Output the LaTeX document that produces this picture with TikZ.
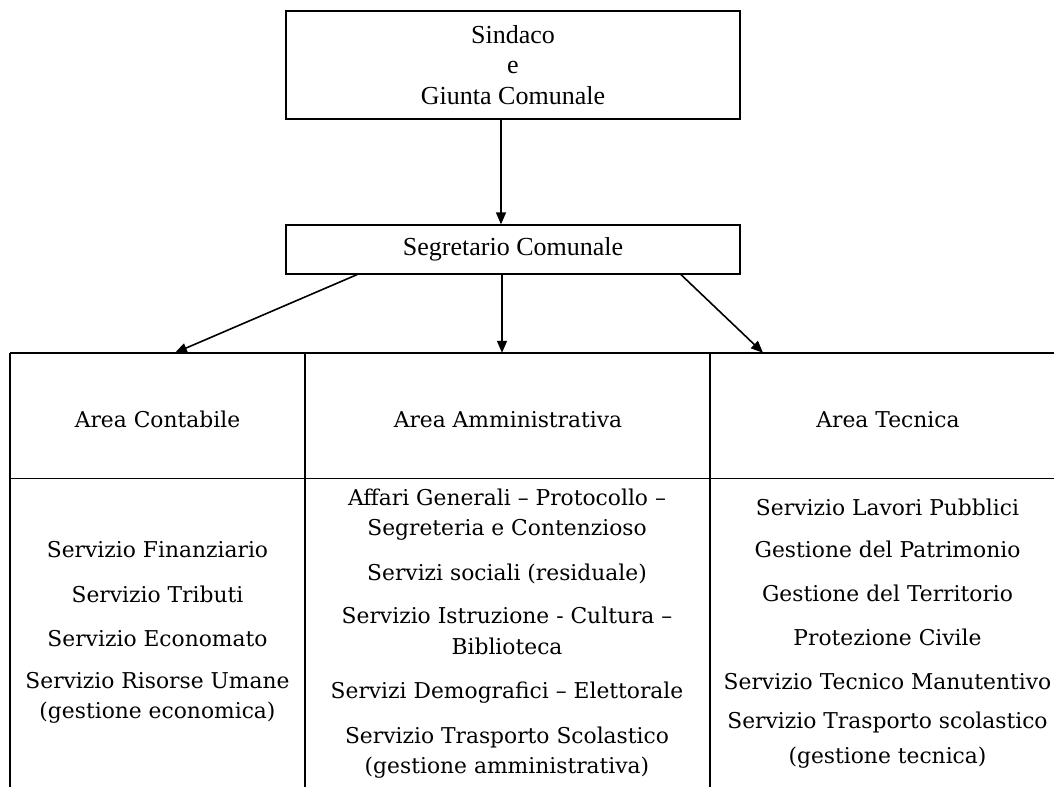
\documentclass[tikz,border=0pt]{standalone}
\usepackage{fontspec}
\setmainfont{Liberation Serif}
\newfontfamily\cellfont{DejaVu Serif}
\usetikzlibrary{arrows.meta,calc}
\begin{document}
\begin{tikzpicture}[x=1pt,y=-1pt,
  box/.style={draw,line width=1.3pt,inner sep=0pt,font=\fontsize{26}{30.5}\selectfont,align=center},
  arr/.style={line width=1.6pt,-{Triangle[length=12pt,width=10pt]}},
  tline/.style={line width=1.4pt},
  cell/.style={inner sep=0pt,minimum height=125pt},
  txt/.style={anchor=base,inner sep=0pt,font=\cellfont\fontsize{21.8}{26}\selectfont}]
\useasboundingbox (0,0) rectangle (1054,787);
% top boxes
\node[box,minimum width=454pt,minimum height=108pt] (sind) at (513,65) {Sindaco\\e\\Giunta Comunale};
\node[box,minimum width=454pt,minimum height=49pt] (seg) at (513,249.5) {Segretario Comunale};
% header cells (table)
\node[cell,minimum width=295pt] (c1) at (157.5,415.5) {};
\node[cell,minimum width=405pt] (c2) at (507.5,415.5) {};
\node[cell,minimum width=356pt] (c3) at (888,415.5) {};
% table lines
\draw[tline] (c1.north west) -- (c3.north east);
\draw[tline] (c1.south west) -- (c3.south east);
\draw[tline] (c1.north west) -- (c1.north west |- 0,787);
\draw[tline] (c2.north west) -- (c2.north west |- 0,787);
\draw[tline] (c3.north west) -- (c3.north west |- 0,787);
% arrows
\draw[arr] ([xshift=-12pt]sind.south) -- ([xshift=-12pt]seg.north);
\draw[arr] ([xshift=-156pt]seg.south) -- ([xshift=17.5pt]c1.north);
\draw[arr] ([xshift=-11pt]seg.south) -- ([xshift=-5.5pt]c2.north);
\draw[arr] ([xshift=168pt]seg.south) -- ([xshift=-125pt]c3.north);
% headers
\node[txt] (h1) at (157.5,427) {Area Contabile};
\node[txt] (h2) at (508,427) {Area Amministrativa};
\node[txt] (h3) at (888,427) {Area Tecnica};
% left column
\node[txt] (l1) at (157.5,557) {Servizio Finanziario};
\node[txt] (l2) at (157.5,602) {Servizio Tributi};
\node[txt] (l3) at (157.5,646) {Servizio Economato};
\node[txt] (l4) at (157.5,688) {Servizio Risorse Umane};
\node[txt] (l5) at (157.5,718) {(gestione economica)};
% middle column
\node[txt] (m1) at (507,505) {Affari Generali – Protocollo –};
\node[txt] (m2) at (507,535) {Segreteria e Contenzioso};
\node[txt] (m3) at (507,580) {Servizi sociali (residuale)};
\node[txt] (m4) at (507,623) {Servizio Istruzione - Cultura –};
\node[txt] (m5) at (507,654) {Biblioteca};
\node[txt] (m6) at (507,698) {Servizi Demografici – Elettorale};
\node[txt] (m7) at (507,743) {Servizio Trasporto Scolastico};
\node[txt] (m8) at (507,773) {(gestione amministrativa)};
% right column
\node[txt] (r1) at (887.5,515) {Servizio Lavori Pubblici};
\node[txt] (r2) at (887.5,557) {Gestione del Patrimonio};
\node[txt] (r3) at (887.5,601) {Gestione del Territorio};
\node[txt] (r4) at (887.5,645) {Protezione Civile};
\node[txt] (r5) at (887.5,689) {Servizio Tecnico Manutentivo};
\node[txt] (r6) at (887.5,728) {Servizio Trasporto scolastico};
\node[txt] (r7) at (887.5,763) {(gestione tecnica)};
\end{tikzpicture}
\end{document}
